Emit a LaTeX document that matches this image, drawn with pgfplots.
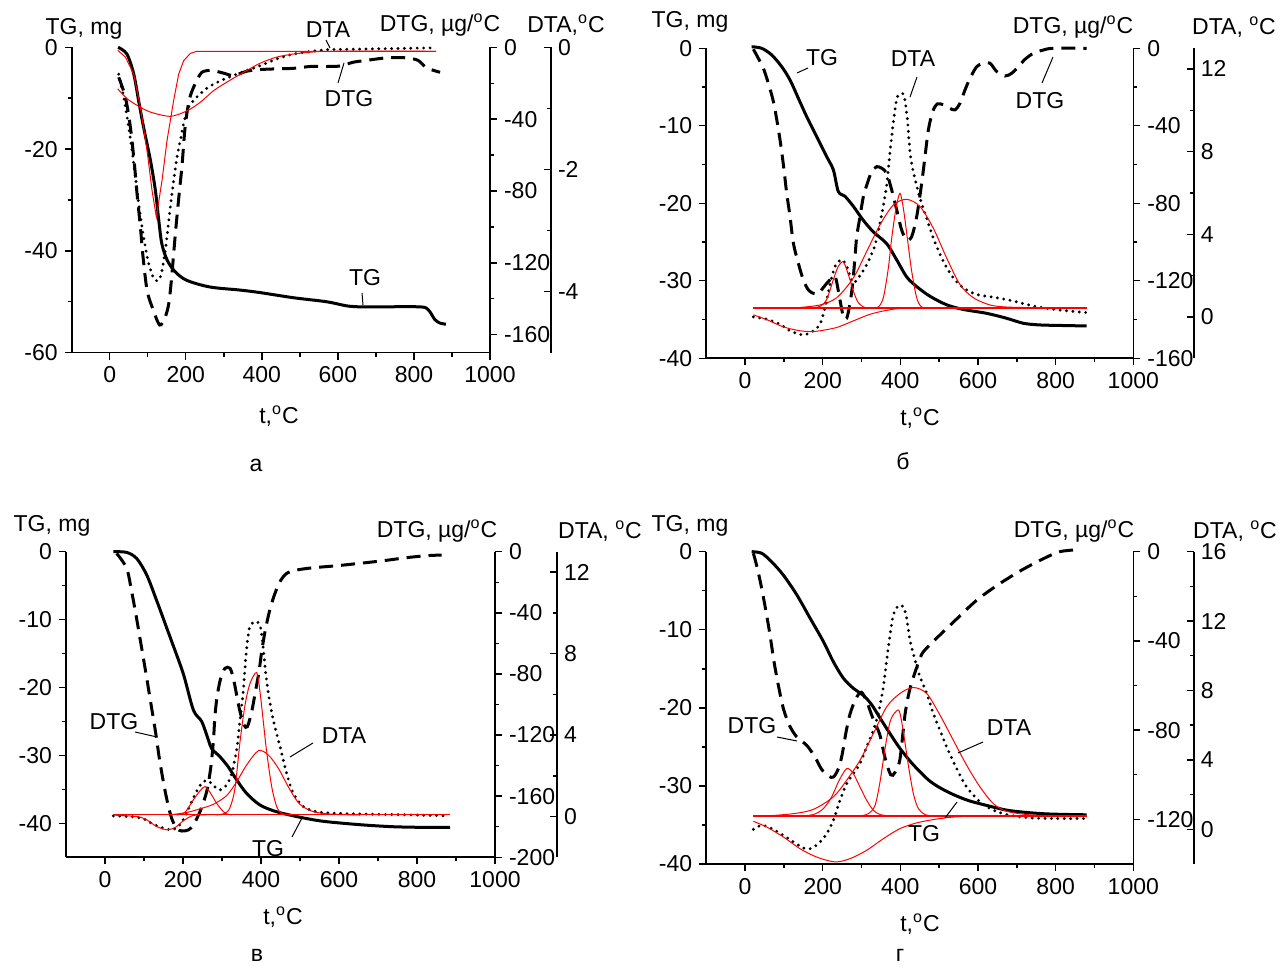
\documentclass[border=0pt]{standalone}
\usepackage{pgfplots}
\pgfplotsset{compat=1.18}
\usepackage{fontspec}
\setmainfont{Liberation Sans}
\newcommand{\fs}{\fontsize{11.5}{13.8}\selectfont}
\newcommand{\dg}{\textsuperscript{o}}
\definecolor{rd}{RGB}{255,0,0}
\pgfplotsset{
  base/.style={scale only axis, clip=false, xmin=-100, xmax=1000,
    tick style={line width=0.7pt, black},
    major tick length=3.5pt, minor tick length=2pt,
    tick align=outside,
    tick label style={font=\fs},
    /pgf/number format/assume math mode=true,
    /pgf/number format/1000 sep={}},
  noarrow/.style={axis line style={line width=0.8pt,-},
    every outer x axis line/.append style={-},
    every outer y axis line/.append style={-}},
  main/.style={base, axis x line*=bottom, axis y line*=left, noarrow,
    xtick={0,200,...,1000}, minor x tick num=1, minor y tick num=1},
  dtg/.style={base, axis x line=none, axis y line*=right, noarrow, minor y tick num=1},
  dtaplot/.style={base, hide axis},
  third/.style={base, axis x line=none, axis y line*=right, noarrow, tick align=inside, minor y tick num=1},
  tg/.style={black, line width=1.5pt, smooth},
  dtgl/.style={black, line width=1.5pt, dash pattern=on 7pt off 4pt, smooth},
  dtal/.style={black, line width=1.6pt, dash pattern=on 0pt off 3.2pt, line cap=round, smooth},
  fit/.style={rd, line width=0.5pt, smooth},
  fitp/.style={rd, line width=0.5pt},
  basel/.style={rd, line width=0.9pt},
}
\tikzset{lab/.style={font=\fs, inner sep=0pt}, ld/.style={black, line width=0.5pt}}
\begin{document}
\begin{tikzpicture}
\path[use as bounding box] (0,0) rectangle (641.5pt,483.5pt);

%%%%%%%%%%%%%%%%%%%%% Panel a
\begin{axis}[main, at={(35.85pt,307.15pt)}, width=209.15pt, height=152.7pt, ymin=-60, ymax=0, ytick={-60,-40,-20,0}]
\addplot[tg] coordinates {(22,0) (45,-1.3) (63,-5.2) (76,-10.5) (89,-15.7) (107,-22.2) (120,-28.1) (129,-34.0) (137,-38.6) (151,-41.8) (172,-44.1) (203,-45.8) (264,-47.1) (343,-47.7) (396,-48.2) (483,-49.2) (571,-50.0) (623,-50.8) (660,-51.0) (702,-51.0) (816,-51.0) (838,-51.6) (855,-53.5) (869,-54.2) (884,-54.4)};
\end{axis}
\begin{axis}[dtg, at={(35.85pt,307.15pt)}, width=209.15pt, height=152.7pt, ymin=-170, ymax=0, ytick={-160,-120,-80,-40,0}]
\addplot[dtgl] coordinates {(23.6,-16.7) (41.2,-27.8) (54.3,-44.4) (64.8,-64.8) (71.8,-81.5) (80.6,-100) (87.6,-116.7) (98.1,-135.2) (111.2,-144.4) (131.3,-154.6) (146,-150) (155,-143) (162,-130) (172.5,-104) (181,-85) (190,-66) (199,-43) (212,-27) (238,-15) (256,-13) (273,-13) (299.5,-14.4) (325.7,-15.7) (360.8,-13.3) (395.8,-12.4) (439.6,-12.0) (483.4,-11.7) (527.1,-10.7) (570.9,-10.7) (606,-10.4) (641,-8.3) (684.8,-7.0) (728.5,-5.9) (781.1,-5.9) (811.7,-7.4) (833.6,-11.5) (868.7,-13.9)};
\end{axis}
\begin{axis}[dtaplot, at={(35.85pt,307.15pt)}, width=209.15pt, height=152.7pt, ymin=-5, ymax=0]
\addplot[dtal] coordinates {(23.6,-0.44) (36.8,-0.82) (49.9,-1.31) (58.7,-1.69) (67.4,-2.12) (76.2,-2.56) (84.9,-2.94) (93.7,-3.27) (102.5,-3.54) (115.6,-3.78) (128.7,-3.82) (137.5,-3.65) (146.2,-3.32) (152.4,-3.00) (159.4,-2.61) (168.1,-2.18) (176.9,-1.80) (187.4,-1.47) (196.1,-1.20) (207.5,-0.98) (220.7,-0.87) (238.2,-0.76) (260.1,-0.65) (290.7,-0.55) (325.7,-0.46) (360.8,-0.38) (395.8,-0.30) (439.6,-0.19) (483.4,-0.11) (527.1,-0.07) (570.9,-0.04) (658.5,-0.03) (746.1,-0.02) (842.4,-0.01)};
\addplot[fitp] coordinates {(21,-0.05) (41.2,-0.16) (63,-0.44) (80.6,-0.98) (98.1,-1.69) (111.2,-2.34) (122.6,-2.78) (137.5,-2.18) (150.6,-1.53) (168.1,-0.87) (181.3,-0.44) (194.4,-0.22) (211.9,-0.10) (229.4,-0.065) (858,-0.065)};
\addplot[fit] coordinates {(21,-0.68) (45.5,-0.84) (71.8,-0.95) (106.8,-1.06) (159.4,-1.13) (203.2,-1.04) (238.2,-0.90) (273.2,-0.71) (308.2,-0.57) (352,-0.41) (395.8,-0.26) (439.6,-0.16) (483.4,-0.11) (535.9,-0.076) (588.4,-0.065) (858,-0.065)};
\end{axis}
\begin{axis}[third, at={(66.35pt,307.15pt)}, width=209.15pt, height=152.7pt, ymin=-5, ymax=0, ytick={-4,-2,0}]
\end{axis}
\node[lab] at (42pt,469pt) {TG, mg};
\node[lab] at (164pt,468.5pt) {DTA};
\draw[ld] (163pt,463.5pt) -- (165pt,459.5pt);
\node[lab] at (220pt,471pt) {DTG, µg/\dg C};
\node[lab] at (283pt,471pt) {DTA,\dg C};
\node[lab] at (174.5pt,434pt) {DTG};
\draw[ld] (169pt,442pt) -- (172pt,452pt);
\node[lab] at (182.5pt,344.5pt) {TG};
\draw[ld] (181pt,337pt) -- (181.5pt,331pt);
\node[lab] at (139.5pt,275.5pt) {t,\dg C};
\node[lab,anchor=base] at (128pt,247.5pt) {а};

%%%%%%%%%%%%%%%%%%%%% Panel b
\begin{axis}[main, at={(353.1pt,304.35pt)}, width=213.55pt, height=155pt, ymin=-40, ymax=0, ytick={-40,-30,-20,-10,0}]
\addplot[tg] coordinates {(17,0.2) (42.9,0) (68.7,-0.86) (94.4,-2.37) (115.9,-4.09) (137.3,-6.45) (158.8,-8.82) (184.5,-11.4) (210.3,-13.98) (227.5,-15.7) (240.3,-18.49) (257.5,-19.1) (279,-20.4) (304.7,-22.2) (330.5,-23.7) (364.8,-25.2) (390.6,-27.3) (416.3,-29.5) (442.1,-30.75) (476.4,-32.0) (519.3,-33.1) (562.2,-33.7) (622.3,-34.2) (673.8,-34.84) (716.7,-35.48) (759.7,-35.7) (828.3,-35.78) (879.8,-35.83)};
\end{axis}
\begin{axis}[dtg, at={(353.1pt,304.35pt)}, width=213.55pt, height=155pt, ymin=-160, ymax=0, ytick={-160,-120,-80,-40,0}]
\addplot[dtgl] coordinates {(21.5,-0.5) (34.3,-5.2) (47.2,-10.3) (60.1,-18.1) (73,-27.5) (83.3,-38.7) (92.7,-50.8) (100.4,-62.8) (107.3,-74.8) (115.9,-86.9) (124.5,-100.6) (137.3,-111) (150.2,-119.6) (163.1,-124.7) (176,-126.5) (188.8,-126.5) (200,-123.9) (214.6,-120.4) (231.8,-117.8) (242.9,-128.2) (253.2,-138.5) (261.8,-139.4) (270.4,-131.6) (277.3,-121.3) (283.3,-107.5) (287.6,-97.2) (296.1,-86.9) (304.7,-76.6) (315,-69.7) (326.2,-63.7) (339.1,-61.1) (351.9,-61.9) (364.8,-64.5) (377.7,-73.1) (390.6,-83.4) (403.4,-93.8) (416.3,-98.9) (429.2,-97.2) (442.1,-86.9) (454.9,-69.7) (463.5,-55.9) (472.1,-42.2) (483.3,-32.7) (495.3,-28.7) (510.7,-29.2) (527.9,-31) (540.8,-31.8) (553.6,-28.4) (566.5,-21.5) (579.4,-15.5) (596.6,-9.5) (613.7,-7.7) (630.9,-7.7) (648.1,-12) (669.5,-14.3) (686.7,-12.9) (703.9,-9.5) (721,-5.7) (742.5,-2.6) (768.2,-0.9) (794,0) (879.8,0)};
\end{axis}
\begin{axis}[dtaplot, at={(353.1pt,304.35pt)}, width=213.55pt, height=155pt, ymin=-2, ymax=13]
\addplot[dtal] coordinates {(21.5,0) (55.8,-0.11) (90.1,-0.35) (115.9,-0.67) (150.2,-0.87) (176,-0.67) (193.1,-0.35) (206,0.45) (218.9,1.57) (231.8,2.45) (248.9,2.77) (261.8,2.45) (270.4,1.97) (279,1.65) (291.8,1.89) (313.3,2.53) (334.8,3.49) (351.9,4.94) (364.8,6.38) (373.4,7.98) (382,9.42) (390.6,10.54) (399.1,10.79) (409.4,10.71) (418,9.58) (424.9,7.98) (433.5,7.02) (450.6,5.74) (467.8,4.78) (485,3.81) (510.7,2.69) (536.5,1.89) (562.2,1.41) (596.6,1.09) (648.1,0.93) (691,0.77) (742.5,0.53) (794,0.37) (879.8,0.21)};
\addplot[basel] coordinates {(21.5,0.45) (879.8,0.45)};
\addplot[fit] coordinates {(21.5,0.10) (55.8,-0.13) (98.7,-0.48) (141.6,-0.67) (176,-0.71) (193.1,-0.67) (236.1,-0.51) (279,-0.19) (321.9,0.13) (364.8,0.32) (407.7,0.43) (467.8,0.45) (879.8,0.45)};
\addplot[fit] coordinates {(167.4,0.45) (193.1,0.51) (210.3,0.85) (227.5,1.81) (240.3,2.45) (253.2,2.66) (266.1,2.05) (279,1.25) (291.8,0.69) (309,0.45) (330.5,0.45)};
\addplot[fit] coordinates {(330.5,0.45) (343.3,0.48) (356.2,0.93) (369.1,2.37) (377.7,3.81) (388.8,5.26) (399.1,5.98) (407.7,5.26) (418,3.81) (429.2,2.21) (442.1,0.93) (454.9,0.48) (476.4,0.45)};
\addplot[fit] coordinates {(141.6,0.46) (193.1,0.58) (236.1,0.93) (279,1.89) (313.3,3.17) (347.6,4.46) (382,5.42) (416.3,5.69) (450.6,5.34) (485,4.29) (519.3,2.85) (553.6,1.57) (588,0.93) (630.9,0.58) (673.8,0.48) (742.5,0.45)};
\end{axis}
\begin{axis}[third, at={(383.35pt,304.35pt)}, width=213.55pt, height=155pt, ymin=-2, ymax=13, ytick={0,4,8,12}]
\end{axis}
\node[lab] at (345pt,472.5pt) {TG, mg};
\node[lab] at (536.5pt,470pt) {DTG, µg/\dg C};
\node[lab] at (617pt,470pt) {DTA, \dg C};
\node[lab] at (411pt,454.5pt) {TG};
\draw[ld] (398.5pt,447pt) -- (404pt,449.5pt);
\node[lab] at (456.5pt,454pt) {DTA};
\draw[ld] (458.5pt,445pt) -- (455pt,435pt);
\node[lab] at (520pt,433pt) {DTG};
\draw[ld] (521pt,442pt) -- (526.5pt,455pt);
\node[lab] at (460pt,274.5pt) {t,\dg C};
\node[lab,anchor=base] at (451.5pt,248.5pt) {б};

%%%%%%%%%%%%%%%%%%%%% Panel v
\begin{axis}[main, at={(33pt,54.85pt)}, width=214.5pt, height=152.8pt, ymin=-45, ymax=0, ytick={-40,-30,-20,-10,0}]
\addplot[tg] coordinates {(21.4,0) (55.6,-0.1) (81.2,-1.0) (106.8,-3.4) (132.5,-7.2) (158.1,-11.2) (170.9,-13.2) (200.9,-18.0) (226.5,-23.3) (247.9,-25.0) (265,-27.7) (273.5,-29.0) (294.9,-30.2) (316.2,-31.7) (337.6,-33.6) (363.2,-35.6) (397.4,-37.3) (440.2,-38.3) (500,-39.1) (559.8,-39.7) (653.8,-40.2) (739.3,-40.5) (824.8,-40.6) (884.6,-40.6)};
\end{axis}
\begin{axis}[dtg, at={(33pt,54.85pt)}, width=214.5pt, height=152.8pt, ymin=-200, ymax=0, ytick={-200,-160,-120,-80,-40,0}]
\addplot[dtgl] coordinates {(29.9,-1.1) (55.6,-10.9) (68.4,-26.2) (79.5,-41.4) (89.7,-56.7) (100,-72) (108.5,-85.1) (119.7,-102.5) (130.8,-120) (139.3,-135.2) (149.6,-150.5) (159.8,-163.6) (170.9,-174.5) (183.8,-181) (196.6,-182.8) (213.7,-182.1) (226.5,-178.8) (243.6,-170.1) (260.7,-157) (270.9,-141.8) (277.8,-124.3) (282.1,-106.9) (288,-93.8) (296.6,-82.9) (307.7,-76.3) (320.5,-76.3) (329.1,-82.9) (337.6,-93.8) (346.2,-104.7) (356.4,-113.4) (365,-114.5) (376.1,-104.7) (387.2,-89.4) (394.9,-78.5) (401.7,-65.4) (410.3,-52.3) (421.4,-39.3) (434.2,-28.4) (448.7,-19.6) (465.8,-14.2) (491.5,-12) (534.2,-10.5) (594,-9.2) (653.8,-7.6) (713.7,-5.9) (773.5,-3.9) (824.8,-2.6) (863.2,-2.2)};
\end{axis}
\begin{axis}[dtaplot, at={(33pt,54.85pt)}, width=214.5pt, height=152.8pt, ymin=-2, ymax=13]
\addplot[dtal] coordinates {(21.4,0.03) (64.1,0) (98.3,-0.11) (123.9,-0.38) (149.6,-0.57) (170.9,-0.65) (188,-0.49) (205.1,0) (222.2,0.73) (239.3,1.39) (252.1,1.71) (265,1.76) (277.8,1.52) (294.9,1.31) (312,1.55) (324.8,2.12) (337.6,3.27) (346.2,4.73) (354.7,6.2) (361.5,7.92) (370.1,9.22) (384.6,9.58) (397.4,9.39) (403.4,8.65) (410.3,7.35) (418.8,6.04) (431.6,4.73) (448.7,3.43) (465.8,2.12) (482.9,1.14) (508.5,0.49) (542.7,0.24) (594,0.16) (696.6,0.11) (790.6,0.08) (880.3,0.03)};
\addplot[basel] coordinates {(21.4,0.1) (884.6,0.1)};
\addplot[fit] coordinates {(21.4,0.07) (81.2,0) (106.8,-0.16) (132.5,-0.49) (158.1,-0.65) (179.5,-0.54) (200.9,-0.21) (222.2,0.03) (243.6,0.08) (300,0.1)};
\addplot[fit] coordinates {(183.8,0.08) (205.1,0.21) (226.5,0.82) (243.6,1.26) (256.4,1.47) (269.2,1.19) (286.3,0.65) (303.4,0.24) (312,0.13) (324.8,0.08)};
\addplot[fit] coordinates {(166.7,0.08) (209.4,0.2) (243.6,0.38) (277.8,0.6) (312,1.03) (337.6,1.71) (363.2,2.53) (393.2,3.23) (418.8,3.02) (444.4,2.37) (474.4,1.31) (500,0.6) (534.2,0.24) (585.5,0.11) (653.8,0.08)};
\addplot[fit] coordinates {(286.3,0.08) (307.7,0.16) (320.5,0.44) (333.3,1.39) (346.2,3.67) (359,5.47) (371.8,6.53) (388.9,7.07) (397.4,6.12) (406,4.65) (414.5,3.18) (427.4,1.47) (440.2,0.49) (453,0.16) (474.4,0.08)};
\end{axis}
\begin{axis}[third, at={(64pt,54.85pt)}, width=214.5pt, height=152.8pt, ymin=-2, ymax=13, ytick={0,4,8,12}]
\end{axis}
\node[lab] at (26pt,220.5pt) {TG, mg};
\node[lab] at (218.5pt,218pt) {DTG, µg/\dg C};
\node[lab] at (300pt,218pt) {DTA, \dg C};
\node[lab] at (57pt,122.5pt) {DTG};
\draw[ld] (67.5pt,117.5pt) -- (78.5pt,115pt);
\node[lab] at (172pt,115.5pt) {DTA};
\draw[ld] (156.5pt,112pt) -- (145pt,105pt);
\node[lab] at (134pt,59pt) {TG};
\draw[ld] (146pt,65pt) -- (151pt,74.5pt);
\node[lab] at (141.5pt,25pt) {t,\dg C};
\node[lab,anchor=base] at (128.5pt,2.5pt) {в};

%%%%%%%%%%%%%%%%%%%%% Panel g
\begin{axis}[main, at={(353.1pt,51.5pt)}, width=213.55pt, height=156.15pt, ymin=-40, ymax=0, ytick={-40,-30,-20,-10,0}]
\addplot[tg] coordinates {(17.2,0) (42.9,-0.2) (68.7,-1.3) (98.7,-3.0) (133,-5.5) (167.4,-8.5) (201.7,-11.5) (227.5,-14.1) (253.2,-16.2) (279,-17.5) (304.7,-18.4) (326.2,-19.6) (347.6,-21.3) (373.4,-23.3) (399.1,-25.2) (433.5,-27.3) (476.4,-29.4) (519.3,-30.7) (570.8,-31.8) (622.3,-32.5) (673.8,-33.1) (725.3,-33.4) (785.4,-33.6) (879.8,-33.7)};
\end{axis}
\begin{axis}[dtg, at={(353.1pt,51.5pt)}, width=213.55pt, height=156.15pt, ymin=-140, ymax=0, ytick={-120,-80,-40,0}]
\addplot[dtgl] coordinates {(21.5,-0.7) (31.8,-7.5) (42.9,-16.5) (54.1,-26.9) (64.4,-37.4) (74.7,-49.4) (85.8,-59.9) (98.7,-70.3) (114.2,-77.8) (133,-83) (158.8,-86.8) (180,-92) (197,-97.5) (215,-100.6) (228,-101) (241,-97) (250,-91) (260,-81) (270,-73) (285,-66) (300,-63) (315,-68) (330,-75) (347,-82) (360,-92) (375,-100) (386,-99) (399,-93) (412,-73) (424,-62) (438,-54) (455,-46) (475,-42) (495,-38.5) (540,-31) (595,-22) (650,-15) (710,-8.5) (770,-3) (811,0) (850,0.8)};
\end{axis}
\begin{axis}[dtaplot, at={(353.1pt,51.5pt)}, width=213.55pt, height=156.15pt, ymin=-2, ymax=16]
\addplot[dtal] coordinates {(21.5,0) (42.9,0.23) (68.7,0.04) (98.7,-0.35) (124.5,-0.73) (150.2,-1.08) (167.4,-1.12) (188.8,-0.83) (210.3,-0.25) (227.5,0.52) (244.6,1.67) (261.8,2.63) (279,3.21) (296.1,3.79) (313.3,4.75) (330.5,5.71) (343.3,6.67) (356.2,8.21) (364.8,9.75) (373.4,11.19) (382,12.35) (394.8,12.88) (407.7,12.83) (416.3,12.15) (424.9,10.9) (437.8,9.75) (450.6,8.79) (467.8,7.83) (485,6.67) (502.1,5.71) (519.3,4.75) (545.1,3.5) (570.8,2.44) (605.2,1.58) (639.5,1.1) (682.4,0.81) (742.5,0.65) (811.2,0.62) (879.8,0.62)};
\addplot[basel] coordinates {(21.5,0.77) (879.8,0.77)};
\addplot[fit] coordinates {(21.5,0.46) (55.8,0.13) (98.7,-0.44) (141.6,-1.12) (184.5,-1.6) (231.8,-1.88) (270.4,-1.69) (313.3,-1.21) (356.2,-0.54) (399.1,0.04) (442.1,0.37) (485,0.56) (527.9,0.69) (570.8,0.75) (613.7,0.77) (879.8,0.77)};
\addplot[fit] coordinates {(141.6,0.77) (176,0.85) (201.7,1.19) (223.2,1.87) (240.3,2.73) (257.5,3.4) (266.1,3.5) (279,3.21) (296.1,2.44) (313.3,1.67) (330.5,1.1) (347.6,0.85) (373.4,0.77)};
\addplot[fit] coordinates {(55.8,0.77) (124.5,0.9) (176,1.15) (227.5,1.87) (261.8,2.83) (296.1,3.98) (330.5,5.52) (364.8,7.06) (399.1,7.83) (433.5,8.17) (467.8,7.83) (502.1,6.58) (536.5,5.13) (570.8,3.69) (605.2,2.44) (639.5,1.48) (673.8,1.04) (725.3,0.85) (785.4,0.77)};
\addplot[fit] coordinates {(296.1,0.77) (317.6,0.9) (334.8,1.38) (347.6,2.73) (360.5,4.65) (373.4,6.19) (386.3,6.73) (397.4,6.81) (407.7,5.62) (420.6,3.69) (433.5,2.06) (446.4,1.19) (463.5,0.85) (485,0.77)};
\end{axis}
\begin{axis}[third, at={(383.35pt,51.5pt)}, width=213.55pt, height=156.15pt, ymin=-2, ymax=16, ytick={0,4,8,12,16}]
\end{axis}
\node[lab] at (345pt,220.5pt) {TG, mg};
\node[lab] at (537pt,218pt) {DTG, µg/\dg C};
\node[lab] at (617.5pt,218pt) {DTA, \dg C};
\node[lab] at (376pt,120.5pt) {DTG};
\draw[ld] (388.5pt,115pt) -- (398.5pt,113pt);
\node[lab] at (504.5pt,119.5pt) {DTA};
\draw[ld] (491.5pt,112.5pt) -- (479pt,107pt);
\node[lab] at (462pt,66.5pt) {TG};
\draw[ld] (478.5pt,82.5pt) -- (472.5pt,74.5pt);
\node[lab] at (460pt,21.5pt) {t,\dg C};
\node[lab,anchor=base] at (450pt,2.5pt) {г};
\end{tikzpicture}
\end{document}
